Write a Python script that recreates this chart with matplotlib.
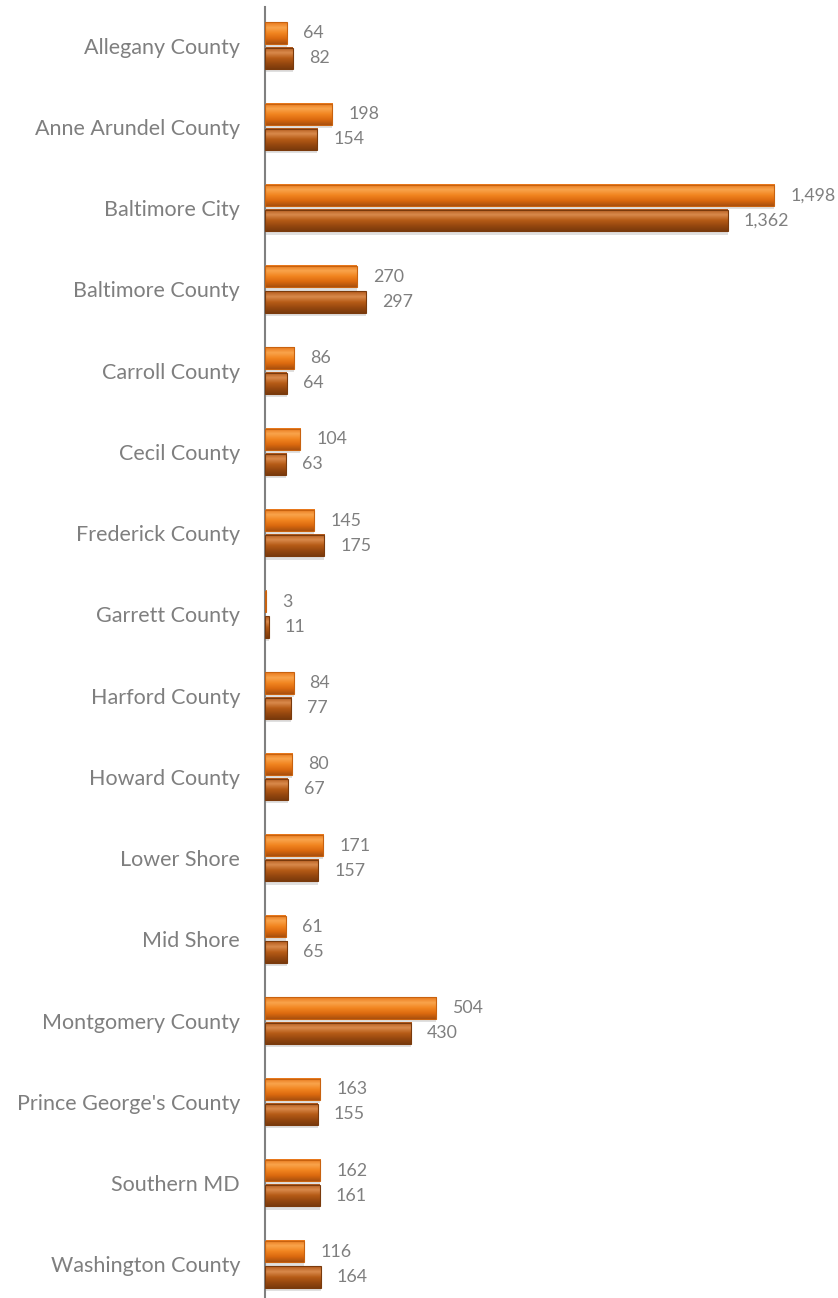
import numpy as np
import matplotlib.pyplot as plt
from matplotlib.colors import LinearSegmentedColormap

counties = ["Allegany County", "Anne Arundel County", "Baltimore City", "Baltimore County",
            "Carroll County", "Cecil County", "Frederick County", "Garrett County",
            "Harford County", "Howard County", "Lower Shore", "Mid Shore",
            "Montgomery County", "Prince George's County", "Southern MD", "Washington County"]
series_a = [64, 198, 1498, 270, 86, 104, 145, 3, 84, 80, 171, 61, 504, 163, 162, 116]
series_b = [82, 154, 1362, 297, 64, 63, 175, 11, 77, 67, 157, 65, 430, 155, 161, 164]

W, H = 838, 1298
fig = plt.figure(figsize=(W / 100, H / 100), dpi=100)
ax = fig.add_axes([265 / W, -7 / H, (W - 265) / W, (1298 - 5 + 7) / H])

n = len(counties)
y = np.arange(n)
bh = 0.26
off = 0.155

# bevel-like vertical gradients
cm_a = LinearSegmentedColormap.from_list("a", ["#a9500e", "#dc6a0f", "#f28520", "#f9a44c", "#e8781a"])
cm_b = LinearSegmentedColormap.from_list("b", ["#7a3a0c", "#97480f", "#b75c17", "#d98a4c", "#b2581a"])
grad = np.linspace(0, 1, 64).reshape(-1, 1)


def draw_bars(vals, ypos, cmap, edge):
    for v, yy in zip(vals, ypos):
        # soft shadow
        ax.barh(yy + 0.04, v, height=bh, left=0, color="#000000", alpha=0.12, zorder=1)
        ax.imshow(grad, cmap=cmap, aspect="auto", origin="lower",
                  extent=[0, v, yy + bh / 2, yy - bh / 2], zorder=2, interpolation="bilinear")
        ax.barh(yy, v, height=bh, left=0, facecolor="none", edgecolor=edge, linewidth=0.8, zorder=3)


draw_bars(series_a, y - off, cm_a, "#c8620f")
draw_bars(series_b, y + off, cm_b, "#7a3a0c")

lab_kw = dict(va="center", ha="left", fontsize=12.8, color="#7f7f7f", family="Lato")
for v, yy in zip(series_a, y - off):
    ax.text(v + 47, yy, f"{v:,}", **lab_kw)
for v, yy in zip(series_b, y + off):
    ax.text(v + 47, yy, f"{v:,}", **lab_kw)

ax.set_xlim(0, 1686)
ax.set_ylim(n - 0.5, -0.5)
ax.set_yticks(y)
ax.set_yticklabels(counties, fontsize=15.5, color="#7f7f7f", family="Lato")
ax.tick_params(axis="y", length=0, pad=18)
ax.set_xticks([])
for s in ["top", "right", "bottom"]:
    ax.spines[s].set_visible(False)
ax.spines["left"].set_color("#808080")
ax.spines["left"].set_linewidth(1.5)
ax.spines["left"].set_bounds(n - 0.5, -0.48)

fig.savefig("out.png", dpi=100)
